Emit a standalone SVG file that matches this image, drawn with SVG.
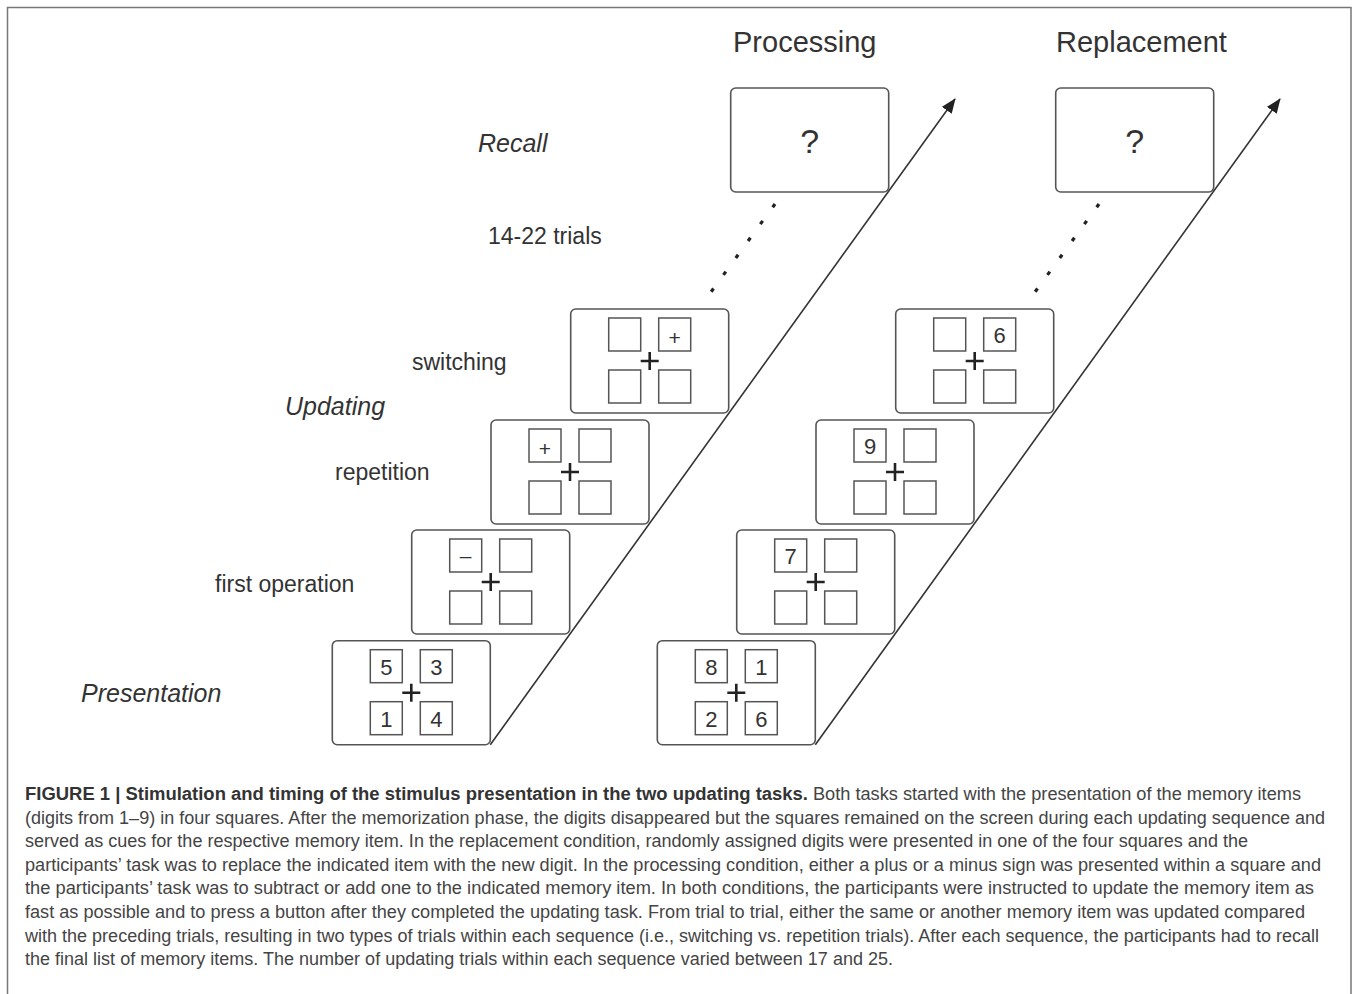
<svg xmlns="http://www.w3.org/2000/svg" width="1354" height="994" viewBox="0 0 1354 994">
<style>
.scr{fill:#fff;stroke:#555;stroke-width:1.6}
.sq{fill:#fff;stroke:#555;stroke-width:1.5}
.fx{stroke:#222;stroke-width:2.6;fill:none}
.lab{font-family:"Liberation Sans",Arial,sans-serif;fill:#333}
.it{font-style:italic}
.dig{font-family:"Liberation Sans",Arial,sans-serif;font-size:22px;fill:#333;text-anchor:middle}
.sym{font-family:"Liberation Sans",Arial,sans-serif;font-size:21px;fill:#333;text-anchor:middle}
.q{font-family:"Liberation Sans",Arial,sans-serif;font-size:34px;fill:#333;text-anchor:middle}
.cap{font-family:"Liberation Sans",Arial,sans-serif;font-size:17.5px;fill:#444}
.capb{font-family:"Liberation Sans",Arial,sans-serif;font-size:17.5px;font-weight:bold;fill:#333}
.ax{stroke:#333;stroke-width:1.6;fill:none}
.dots{stroke:#222;stroke-width:3.2;fill:none;stroke-dasharray:4 16.9}
</style>
<defs>
<marker id="ah" markerWidth="16" markerHeight="12" refX="14" refY="6" orient="auto" markerUnits="userSpaceOnUse">
<path d="M0,0 L15,6 L0,12 z" fill="#222"/>
</marker>
<g id="grid">
<rect class="sq" x="-41" y="-43" width="32" height="33"/>
<rect class="sq" x="9" y="-43" width="32" height="33"/>
<rect class="sq" x="-41" y="9" width="32" height="33"/>
<rect class="sq" x="9" y="9" width="32" height="33"/>
<path class="fx" d="M-9,0 H9 M0,-9 V9"/>
</g>
</defs>
<rect x="0" y="0" width="1354" height="994" fill="#fff"/>
<path d="M7.5,1000 V7.5 H1351 V1000" fill="none" stroke="#777" stroke-width="1.5"/>

<text class="lab" x="733" y="52" font-size="29">Processing</text>
<text class="lab" x="1056" y="52" font-size="29">Replacement</text>
<text class="lab it" x="478" y="152" font-size="25">Recall</text>
<text class="lab" x="488" y="244" font-size="23">14-22 trials</text>
<text class="lab" x="412" y="370" font-size="23">switching</text>
<text class="lab it" x="285" y="415" font-size="25">Updating</text>
<text class="lab" x="335" y="480" font-size="23">repetition</text>
<text class="lab" x="215" y="592" font-size="23">first operation</text>
<text class="lab it" x="81" y="702" font-size="25">Presentation</text>

<g id="connectors">
<line class="ax" x1="490.3" y1="744.7" x2="955" y2="99" marker-end="url(#ah)"/>
<line class="ax" x1="815.3" y1="744.7" x2="1280" y2="99" marker-end="url(#ah)"/>
<line class="dots" x1="775" y1="204" x2="711" y2="292"/>
<line class="dots" x1="1099" y1="204" x2="1035" y2="292"/>
</g>

<g id="proc-presentation">
<rect class="scr" x="332.3" y="640.7" width="158" height="104" rx="5"/>
<use href="#grid" x="411.3" y="692.7"/>
<text class="dig" x="386.3" y="674.5">5</text>
<text class="dig" x="436.3" y="674.5">3</text>
<text class="dig" x="386.3" y="726.5">1</text>
<text class="dig" x="436.3" y="726.5">4</text>
</g>
<g id="proc-first">
<rect class="scr" x="411.7" y="530" width="158" height="104" rx="5"/>
<use href="#grid" x="490.7" y="582"/>
<text class="sym" x="465.7" y="563" font-size="24">–</text>
</g>
<g id="proc-repetition">
<rect class="scr" x="491" y="420" width="158" height="104" rx="5"/>
<use href="#grid" x="570" y="472"/>
<text class="sym" x="545" y="455.5">+</text>
</g>
<g id="proc-switching">
<rect class="scr" x="570.7" y="309" width="158" height="104" rx="5"/>
<use href="#grid" x="649.7" y="361"/>
<text class="sym" x="674.7" y="344.5">+</text>
</g>
<g id="proc-recall">
<rect class="scr" x="730.7" y="88" width="158" height="104" rx="5"/>
<text class="q" x="809.7" y="153">?</text>
</g>

<g id="rep-presentation">
<rect class="scr" x="657.3" y="640.7" width="158" height="104" rx="5"/>
<use href="#grid" x="736.3" y="692.7"/>
<text class="dig" x="711.3" y="674.5">8</text>
<text class="dig" x="761.3" y="674.5">1</text>
<text class="dig" x="711.3" y="726.5">2</text>
<text class="dig" x="761.3" y="726.5">6</text>
</g>
<g id="rep-first">
<rect class="scr" x="736.7" y="530" width="158" height="104" rx="5"/>
<use href="#grid" x="815.7" y="582"/>
<text class="dig" x="790.7" y="563.8">7</text>
</g>
<g id="rep-repetition">
<rect class="scr" x="816" y="420" width="158" height="104" rx="5"/>
<use href="#grid" x="895" y="472"/>
<text class="dig" x="870" y="453.8">9</text>
</g>
<g id="rep-switching">
<rect class="scr" x="895.7" y="309" width="158" height="104" rx="5"/>
<use href="#grid" x="974.7" y="361"/>
<text class="dig" x="999.7" y="342.8">6</text>
</g>
<g id="rep-recall">
<rect class="scr" x="1055.7" y="88" width="158" height="104" rx="5"/>
<text class="q" x="1134.7" y="153">?</text>
</g>

<g id="caption">
<text class="capb" x="25" y="800" textLength="783" lengthAdjust="spacingAndGlyphs">FIGURE 1 | Stimulation and timing of the stimulus presentation in the two updating tasks.</text>
<text class="cap" x="813" y="800" textLength="488" lengthAdjust="spacingAndGlyphs">Both tasks started with the presentation of the memory items</text>
<text class="cap" x="25" y="823.6" textLength="1300" lengthAdjust="spacingAndGlyphs">(digits from 1–9) in four squares. After the memorization phase, the digits disappeared but the squares remained on the screen during each updating sequence and</text>
<text class="cap" x="25" y="847.2" textLength="1223" lengthAdjust="spacingAndGlyphs">served as cues for the respective memory item. In the replacement condition, randomly assigned digits were presented in one of the four squares and the</text>
<text class="cap" x="25" y="870.8" textLength="1296" lengthAdjust="spacingAndGlyphs">participants’ task was to replace the indicated item with the new digit. In the processing condition, either a plus or a minus sign was presented within a square and</text>
<text class="cap" x="25" y="894.4" textLength="1289" lengthAdjust="spacingAndGlyphs">the participants’ task was to subtract or add one to the indicated memory item. In both conditions, the participants were instructed to update the memory item as</text>
<text class="cap" x="25" y="918" textLength="1280" lengthAdjust="spacingAndGlyphs">fast as possible and to press a button after they completed the updating task. From trial to trial, either the same or another memory item was updated compared</text>
<text class="cap" x="25" y="941.6" textLength="1294" lengthAdjust="spacingAndGlyphs">with the preceding trials, resulting in two types of trials within each sequence (i.e., switching vs. repetition trials). After each sequence, the participants had to recall</text>
<text class="cap" x="25" y="965.2" textLength="868" lengthAdjust="spacingAndGlyphs">the final list of memory items. The number of updating trials within each sequence varied between 17 and 25.</text>
</g>
</svg>
